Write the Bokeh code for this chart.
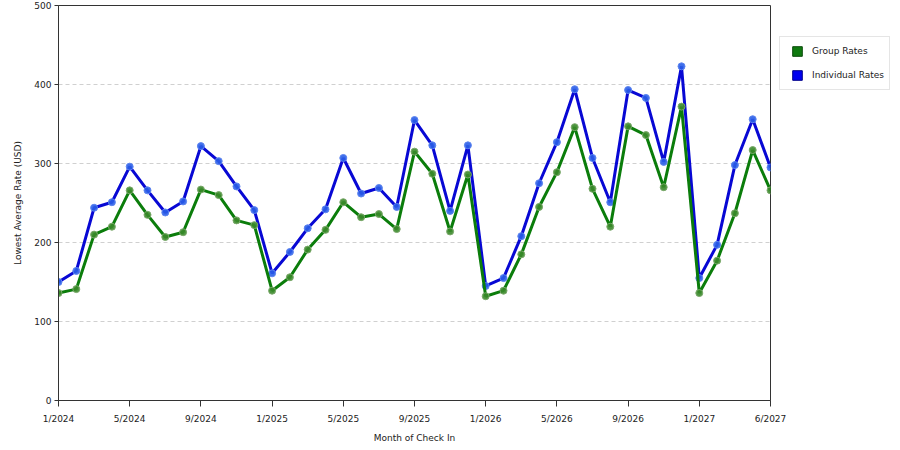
from bokeh.plotting import figure
from bokeh.models import ColumnDataSource, Legend, LegendItem, FixedTicker
from bokeh.embed import file_html
from bokeh.resources import INLINE

# lowest average rate (USD) per month of check in, 1/2024 .. 5/2027
group_rates = [136, 141, 210, 220, 266, 235, 207, 213, 267, 260, 228, 222,
               139, 156, 191, 216, 251, 232, 236, 217, 315, 287, 214, 286,
               132, 139, 185, 245, 289, 346, 268, 220, 347, 336, 270, 372,
               136, 177, 237, 317, 266]
individual_rates = [150, 164, 244, 251, 296, 266, 238, 252, 322, 303, 271, 241,
                    161, 188, 218, 242, 307, 262, 269, 245, 355, 323, 240, 323,
                    145, 155, 208, 275, 327, 394, 307, 251, 393, 383, 302, 423,
                    155, 197, 298, 356, 295]
tick_positions = [0, 4, 8, 12, 16, 20, 24, 28, 32, 36, 40]
tick_labels = ["1/2024", "5/2024", "9/2024", "1/2025", "5/2025", "9/2025",
               "1/2026", "5/2026", "9/2026", "1/2027", "6/2027"]

src = ColumnDataSource(data=dict(
    x=list(range(len(group_rates))),
    group=group_rates,
    indiv=individual_rates,
))

p = figure(frame_width=712, frame_height=395, output_backend="svg",
           toolbar_location=None, x_range=(0, 40), y_range=(0, 500),
           min_border_left=58, min_border_top=5, min_border_bottom=40,
           min_border_right=0)
p.background_fill_color = "white"
p.border_fill_color = "white"
p.outline_line_color = "#333333"
p.outline_line_width = 1

p.xgrid.grid_line_color = None
p.ygrid.grid_line_color = "#d0d0d0"
p.ygrid.grid_line_dash = "4 3"

p.xaxis.ticker = FixedTicker(ticks=tick_positions)
p.xaxis.major_label_overrides = {t: l for t, l in zip(tick_positions, tick_labels)}
p.xaxis.minor_tick_line_color = None
p.xaxis.major_tick_out = 6
p.xaxis.major_tick_in = 0
p.xaxis.axis_label = "Month of Check In"

p.yaxis.ticker = FixedTicker(ticks=[0, 100, 200, 300, 400, 500])
p.yaxis.minor_tick_line_color = None
p.yaxis.major_tick_out = 4
p.yaxis.major_tick_in = 0
p.yaxis.axis_label = "Lowest Average Rate (USD)"

for ax in (p.xaxis, p.yaxis):
    ax.axis_line_color = "#333333"
    ax.major_tick_line_color = "#333333"
    ax.major_label_text_font = "DejaVu Sans"
    ax.major_label_text_font_size = "9px"
    ax.major_label_text_color = "#222222"
    ax.axis_label_text_font = "DejaVu Sans"
    ax.axis_label_text_font_size = "9px"
    ax.axis_label_text_font_style = "normal"
    ax.axis_label_text_color = "#222222"
p.xaxis.major_label_standoff = 7
p.xaxis.axis_label_standoff = 6
p.yaxis.major_label_standoff = 3
p.yaxis.axis_label_standoff = 8

p.line("x", "indiv", source=src, line_color="#0808d4", line_width=3)
p.scatter("x", "indiv", source=src, marker="circle", size=7,
          fill_color="#2a5ee8", line_color="#5c84f0", fill_alpha=0.9)
p.line("x", "group", source=src, line_color="#0b7d0b", line_width=3)
p.scatter("x", "group", source=src, marker="circle", size=7,
          fill_color="#3a8a2a", line_color="#7aa86a", fill_alpha=0.9)

# square swatches for the legend (size 0, nothing drawn in the plot)
sq_g = p.scatter("x", "group", source=src, marker="square", size=0,
                 fill_color="#0f7a0f", line_color="#0a4a0a")
sq_b = p.scatter("x", "indiv", source=src, marker="square", size=0,
                 fill_color="#0000f0", line_color="#00008a")

legend = Legend(items=[LegendItem(label="Group Rates", renderers=[sq_g]),
                       LegendItem(label="Individual Rates", renderers=[sq_b])],
                location=(9, 310), glyph_width=30, glyph_height=24,
                spacing=0, padding=2, margin=0, label_standoff=0,
                label_width=75, border_line_color="#cccccc",
                label_text_font="DejaVu Sans", label_text_font_size="9px",
                label_text_color="#222222")
p.add_layout(legend, "right")

open("out.html", "w").write(file_html(p, INLINE))
